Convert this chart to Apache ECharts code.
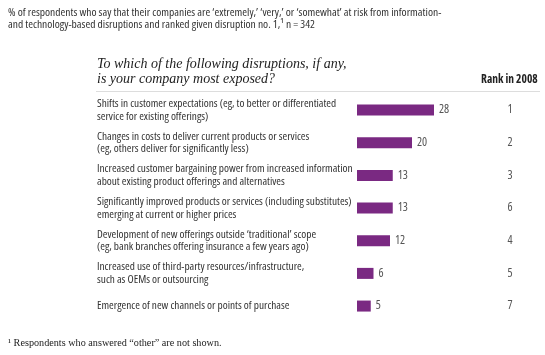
<!DOCTYPE html>
<html><head><meta charset="utf-8">
<script src="https://cdn.jsdelivr.net/npm/echarts@6/dist/echarts.min.js"></script>
<style>html,body{margin:0;padding:0;background:#fff}#c{width:545px;height:355px}</style>
</head><body><div id="c"></div>
<script>
const categories = [
  "Shifts in customer expectations (eg, to better or differentiated\nservice for existing offerings)",
  "Changes in costs to deliver current products or services\n(eg, others deliver for significantly less)",
  "Increased customer bargaining power from increased information\nabout existing product offerings and alternatives",
  "Significantly improved products or services (including substitutes)\nemerging at current or higher prices",
  "Development of new offerings outside \u2018traditional\u2019 scope\n(eg, bank branches offering insurance a few years ago)",
  "Increased use of third-party resources/infrastructure,\nsuch as OEMs or outsourcing",
  "Emergence of new channels or points of purchase"
];
const values = [28, 20, 13, 13, 12, 6, 5];
const rank2008 = ["1", "2", "3", "6", "4", "5", "7"];

const sans = "'Open Sans','Liberation Sans',sans-serif";
const serif = "'Liberation Serif','DejaVu Serif',serif";
const chart = echarts.init(document.getElementById('c'), null, {renderer: 'canvas'});
chart.setOption({
  animation: false,
  backgroundColor: '#fff',
  grid: {left: 357, top: 93.7, width: 82.5, height: 228.7},
  xAxis: {type: 'value', min: 0, max: 30, show: false},
  yAxis: [{
    type: 'category', data: categories, inverse: true,
    axisLine: {show: false}, axisTick: {show: false}, splitLine: {show: false},
    axisLabel: {align: 'left', margin: 260, fontFamily: sans, fontStyle: 'condensed', fontSize: 11.3, color: '#333', lineHeight: 12.5}
  }, {
    type: 'category', data: rank2008, inverse: true, position: 'right',
    axisLine: {show: false}, axisTick: {show: false}, splitLine: {show: false},
    axisLabel: {align: 'center', margin: 70.5, fontFamily: sans, fontStyle: 'condensed', fontSize: 12, color: '#555'}
  }],
  series: [{
    type: 'bar', data: values, barWidth: 11, yAxisIndex: 0,
    itemStyle: {color: '#7a2982'},
    label: {show: true, position: 'right', distance: 5, fontFamily: sans, fontStyle: 'condensed', fontSize: 12, color: '#555'}
  }],
  graphic: [
    {type: 'text', left: 8, top: 6.5, style: {text: "% of respondents who say that their companies are \u2018extremely,\u2019 \u2018very,\u2019 or \u2018somewhat\u2019 at risk from information-\nand technology-based disruptions and ranked given disruption no. 1,\u00b9 n = 342", font: "condensed 11.5px " + sans, fill: '#333', lineHeight: 12}},
    {type: 'text', left: 97, top: 57, style: {text: "To which of the following disruptions, if any,\nis your company most exposed?", font: "italic 14px " + serif, fill: '#222', lineHeight: 15}},
    {type: 'text', left: 481, top: 74, style: {text: "Rank in 2008", font: "condensed bold 11.5px " + sans, fill: '#222'}},
    {type: 'line', shape: {x1: 96, y1: 91.5, x2: 540, y2: 91.5}, style: {stroke: '#ddd', lineWidth: 1}},
    {type: 'text', left: 8, top: 338, style: {text: "\u00b9 Respondents who answered \u201cother\u201d are not shown.", font: "10.2px " + serif, fill: '#222'}}
  ]
});
</script></body></html>
